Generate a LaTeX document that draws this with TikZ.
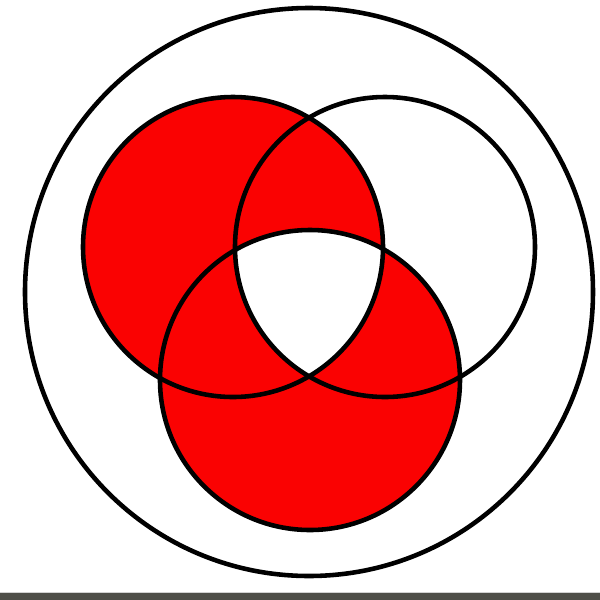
\documentclass[tikz,border=0pt]{standalone}
\usepackage{tikz}
\usepackage{xcolor}
\definecolor{Red}{RGB}{250,2,2}
\definecolor{Bar}{RGB}{78,78,72}

\begin{document}
\begin{tikzpicture}[
    x=0.02cm, y=-0.02cm,
    line width=2.6pt,
    ring/.style={draw=black}
]
  \useasboundingbox (0,0) rectangle (600,600);
  \fill[white] (0,0) rectangle (600,600);

  \coordinate (O) at (309,292);
  \coordinate (A) at (233,247);
  \coordinate (B) at (385,247);
  \coordinate (C) at (310,380);

  % shaded sets
  \fill[Red] (A) circle (150);
  \fill[Red] (C) circle (150);
  \begin{scope}
    \clip (A) circle (150);
    \clip (B) circle (150);
    \fill[white] (C) circle (150);
  \end{scope}

  % outlines
  \draw[ring] (O) circle (284);
  \foreach \c in {A,B,C} {
    \draw[ring] (\c) circle (150);
  }

  \fill[Bar] (0,593) rectangle (600,600);
  \draw[gray!35, line width=0.6pt] (0,592.5) -- (600,592.5);
\end{tikzpicture}
\end{document}
